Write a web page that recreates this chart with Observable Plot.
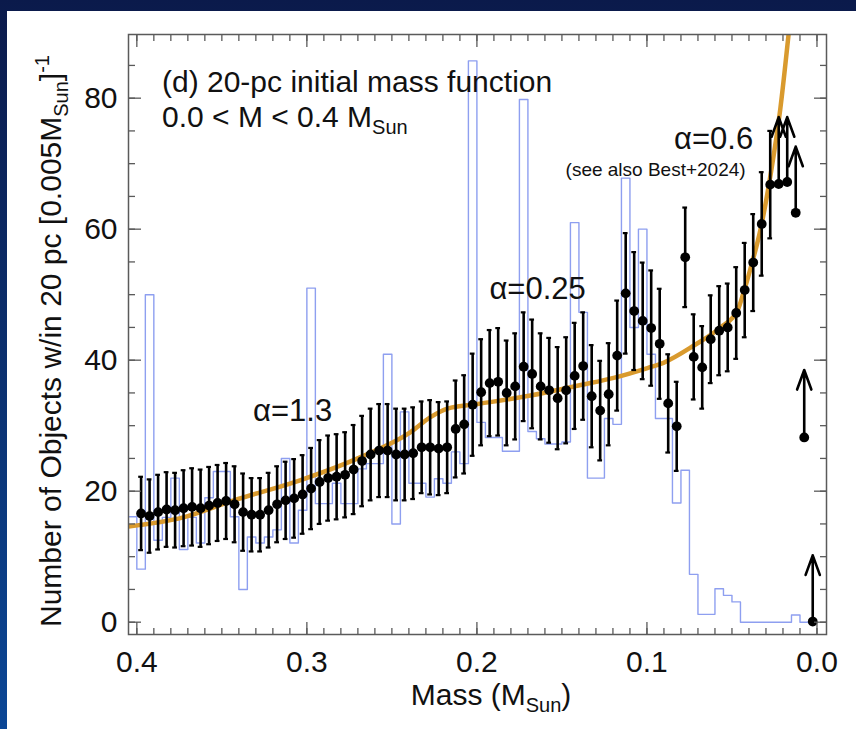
<!DOCTYPE html>
<html>
<head>
<meta charset="utf-8">
<script src="https://cdn.jsdelivr.net/npm/d3@7"></script>
<script src="https://cdn.jsdelivr.net/npm/@observablehq/plot@0.6"></script>
<style>
  html, body { margin: 0; padding: 0; }
  body { width: 856px; height: 729px; overflow: hidden; position: relative;
         background: linear-gradient(180deg, #0b1a4b 0%, #0b3272 55%, #0b4796 100%); }
  #paper { position: absolute; left: 7px; top: 11px; right: 0; bottom: 0; background: #fff; }
  #chart { position: absolute; left: 0; top: 0; }
</style>
</head>
<body>
<div id="paper"></div>
<div id="chart"></div>
<script>
// ---------- data ----------
// bin centres (M_sun) of the black points
const mass = [
  0.3975,0.3925,0.3875,0.3825,0.3775,0.3725,0.3675,0.3625,0.3575,0.3525,
  0.3475,0.3425,0.3375,0.3325,0.3275,0.3225,0.3175,0.3125,0.3075,0.3025,
  0.2975,0.2925,0.2875,0.2825,0.2775,0.2725,0.2675,0.2625,0.2575,0.2525,
  0.2475,0.2425,0.2375,0.2325,0.2275,0.2225,0.2175,0.2125,0.2075,0.2025,
  0.1975,0.1925,0.1875,0.1825,0.1775,0.1725,0.1675,0.1625,0.1575,0.1525,
  0.1475,0.1425,0.1375,0.1325,0.1275,0.1225,0.1175,0.1125,0.1075,0.1025,
  0.0975,0.0925,0.0875,0.0825,0.0775,0.0725,0.0675,0.0625,0.0575,0.0525,
  0.0475,0.0425,0.0375,0.0325,0.0275,0.0225,0.0175,0.0125,0.0075,0.0025
];
// number of objects per 0.005 M_sun (black points)
const counts = [
  16.6,16.2,16.8,17.2,17.1,17.4,17.6,17.4,17.8,18.2,
  18.5,18.0,16.8,16.4,16.4,17.1,18.0,18.6,18.9,19.5,
  20.4,21.4,22.0,22.2,22.5,23.3,24.6,25.6,26.2,26.2,
  25.6,25.6,25.8,26.7,26.7,26.5,26.7,29.5,30.2,33.2,
  35.1,36.5,36.7,35.0,36.0,39.0,37.9,36.0,35.4,34.2,
  35.4,37.6,39.1,34.5,32.3,34.8,40.7,50.2,47.5,46.0,
  44.9,42.5,33.4,29.9,55.7,40.5,38.9,43.2,44.5,45.0,
  47.2,50.7,54.9,60.8,66.8,66.9,67.2,62.5,28.2,0.1
];
// symmetric error half-widths (null = lower limit, drawn as arrow)
const errs = [
  5.6,5.6,5.7,5.7,5.7,5.8,5.9,5.9,5.9,5.8,
  5.8,5.8,5.9,5.6,5.6,5.7,5.8,5.9,6.0,6.0,
  6.2,6.4,6.5,6.5,6.5,6.8,6.9,7.0,7.1,7.1,
  7.0,7.0,7.0,7.0,7.2,7.1,7.0,7.4,7.5,7.8,
  8.1,8.1,8.2,8.0,8.1,8.3,8.3,8.1,8.0,7.8,
  8.1,8.1,8.2,7.8,7.6,7.8,8.4,9.2,9.0,8.9,
  8.8,8.4,7.5,6.8,7.6,6.5,6.3,6.7,6.8,6.7,
  7.0,7.2,7.4,7.9,8.2,null,null,null,null,null
];
// tips of the lower-limit arrows (last five points)
const limitTops = [77.1, 77.1, 72.6, 38.5, 10.2];

// blue histogram: bin centres and counts (first bin 0.400-0.405)
const histCenters = [0.4025, ...mass];
const histCounts = [
  16.1,
  8.1,50.0,12.5,16.0,22.0,11.1,16.0,12.1,19.0,23.0,
  23.0,16.1,5.0,13.0,12.1,13.0,14.1,25.0,12.1,17.1,
  51.0,18.1,18.1,21.2,18.1,18.1,23.4,24.2,24.2,40.9,
  15.0,32.1,21.2,21.2,19.1,21.9,21.2,26.0,24.2,85.7,
  30.5,28.2,28.2,26.1,26.1,79.8,29.1,28.0,27.2,27.2,
  27.5,61.0,47.3,22.0,22.0,31.1,30.2,67.8,45.0,60.0,
  40.9,31.1,31.1,18.2,23.2,7.3,1.2,1.2,5.1,4.1,
  3.1,0,0,0,0,0,0,1.1,0,0
];

// orange model curve
const curveMass = [0.4049,0.3727,0.343,0.3036,0.2684,0.239,0.2273,0.2173,0.1996,0.1685,
                   0.139,0.1196,0.0997,0.0903,0.0726,0.0567,0.0467,0.0432,0.0391,0.0332,
                   0.0273,0.0215,0.0168,0.0138];
const curveVals = [14.6,16.0,18.6,21.7,25.2,29.0,31.3,32.6,33.3,34.6,
                   36.2,37.3,38.8,39.6,42.2,45.0,47.6,50.3,54.0,60.0,
                   68.3,78.5,89.5,97.0];

// annotations
const annoText = ["\u03b1=1.3", "\u03b1=0.25", "\u03b1=0.6"];
const annoMass = [0.3084, 0.1643, 0.0608];
const annoVal  = [32.3, 50.9, 73.7];
const noteText = ["(see also Best+2024)"];
const noteMass = [0.0949];
const noteVal  = [69.0];

// axis ticks
const majorX = [0, 0.1, 0.2, 0.3, 0.4];
const minorX = d3.range(0, 41).map(i => i / 100);
const majorY = [0, 20, 40, 60, 80];
const minorY = d3.range(0, 18).map(i => i * 5);

// ---------- build tables ----------
const pts = mass.map((m, i) => ({m, v: counts[i], e: errs[i]}));
const withErr = pts.filter(d => d.e != null);
const limits = pts.filter(d => d.e == null).map((d, i) => ({...d, top: limitTops[i]}));
const hist = histCenters.map((c, i) => ({m: c + 0.0025, v: histCounts[i]}));
hist.push({m: 0, v: histCounts[histCounts.length - 1]});
const curve = curveMass.map((m, i) => ({m, v: curveVals[i]}));
const annos = annoText.map((t, i) => ({t, m: annoMass[i], v: annoVal[i]}));
const notes = noteText.map((t, i) => ({t, m: noteMass[i], v: noteVal[i]}));

const FONT = "'Liberation Sans', Arial, Helvetica, sans-serif";
const AX = "#5a5a5a";
const tickOnly = {stroke: AX, strokeWidth: 1.3, label: null, tickFormat: () => ""};

const chart = Plot.plot({
  width: 856, height: 729,
  marginLeft: 128, marginRight: 30, marginTop: 34, marginBottom: 95,
  style: {background: "transparent", fontFamily: FONT, color: "#111"},
  x: {domain: [0.4049, -0.0056], label: null},
  y: {domain: [-1.88, 89.72], label: null},
  marks: [
    Plot.line(hist, {x: "m", y: "v", curve: "step-after", stroke: "#8e9ff0", strokeWidth: 1.4, clip: true}),
    Plot.line(curve, {x: "m", y: "v", curve: "monotone-x", stroke: "#d99a2e", strokeWidth: 4.5, clip: true}),
    Plot.ruleX(withErr, {x: "m", y1: d => d.v - d.e, y2: d => d.v + d.e, stroke: "#000", strokeWidth: 2.6}),
    Plot.ruleY(withErr, {y: d => d.v + d.e, x1: d => d.m + 0.0014, x2: d => d.m - 0.0014, stroke: "#000", strokeWidth: 2.2}),
    Plot.ruleY(withErr, {y: d => d.v - d.e, x1: d => d.m + 0.0014, x2: d => d.m - 0.0014, stroke: "#000", strokeWidth: 2.2}),
    Plot.arrow(limits, {x1: "m", x2: "m", y1: "v", y2: "top", stroke: "#000", strokeWidth: 2.6, headLength: 12, headAngle: 40}),
    Plot.dot(pts, {x: "m", y: "v", r: 4.9, fill: "#000"}),
    Plot.frame({stroke: AX, strokeWidth: 1.5}),
    Plot.axisX(majorX, {...tickOnly, anchor: "bottom", tickSize: -12}),
    Plot.axisX(majorX, {...tickOnly, anchor: "top", tickSize: -12}),
    Plot.axisX(minorX, {...tickOnly, anchor: "bottom", tickSize: -6}),
    Plot.axisX(minorX, {...tickOnly, anchor: "top", tickSize: -6}),
    Plot.axisY(majorY, {...tickOnly, anchor: "left", tickSize: -13}),
    Plot.axisY(majorY, {...tickOnly, anchor: "right", tickSize: -13}),
    Plot.axisY(minorY, {...tickOnly, anchor: "left", tickSize: -7}),
    Plot.axisY(minorY, {...tickOnly, anchor: "right", tickSize: -7}),
    Plot.axisX(majorX, {anchor: "bottom", tickSize: 0, tickPadding: 16, tickFormat: d => d.toFixed(1), fontSize: 30, label: null}),
    Plot.axisY(majorY, {anchor: "left", tickSize: 0, tickPadding: 11, fontSize: 30, label: null}),
    Plot.text(annos, {x: "m", y: "v", text: "t", fontSize: 31, fill: "#111", fontFamily: FONT}),
    Plot.text(notes, {x: "m", y: "v", text: "t", fontSize: 19, fill: "#111", fontFamily: FONT})
  ]
});
document.getElementById("chart").appendChild(chart);

// ---------- titles and axis labels (with sub/superscripts) ----------
const svg = d3.select(chart);
const g = svg.append("g").attr("font-family", FONT).attr("fill", "#111");

g.append("text").attr("x", 162).attr("y", 92).attr("font-size", 30).attr("text-anchor", "start")
  .text("(d) 20-pc initial mass function");
const t2 = g.append("text").attr("x", 162).attr("y", 127).attr("font-size", 30).attr("text-anchor", "start");
t2.append("tspan").text("0.0 < M < 0.4 M");
t2.append("tspan").attr("font-size", 20).attr("dy", 7).text("Sun");

const xl = g.append("text").attr("x", 491).attr("y", 705).attr("text-anchor", "middle").attr("font-size", 30);
xl.append("tspan").text("Mass (M");
xl.append("tspan").attr("font-size", 20).attr("dy", 7).text("Sun");
xl.append("tspan").attr("dy", -7).text(")");

const yl = g.append("text").attr("transform", "translate(61,341) rotate(-90)")
  .attr("text-anchor", "middle").attr("font-size", 30);
yl.append("tspan").text("Number of Objects w/in 20 pc [0.005M");
yl.append("tspan").attr("font-size", 20).attr("dy", 7).text("Sun");
yl.append("tspan").attr("dy", -7).text("]");
yl.append("tspan").attr("font-size", 20).attr("dy", -12).text("-1");
</script>
</body>
</html>
